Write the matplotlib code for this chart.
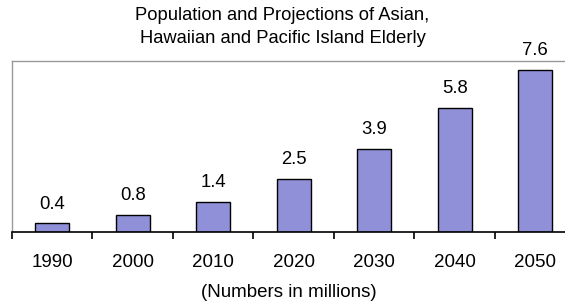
import matplotlib
matplotlib.use("Agg")
import matplotlib.pyplot as plt
import numpy as np

years = ["1990", "2000", "2010", "2020", "2030", "2040", "2050"]
values = [0.4, 0.8, 1.4, 2.5, 3.9, 5.8, 7.6]

plt.rcParams["font.family"] = ["Liberation Sans", "DejaVu Sans"]

W, H = 565, 302
fig = plt.figure(figsize=(W / 100, H / 100), dpi=100)
ax = fig.add_axes([12 / W, (H - 232) / H, 1 - 12 / W, 171 / H])

x = np.arange(len(years))
ax.bar(x, values, width=0.42, color="#9090d8", edgecolor="black", linewidth=1.0)
for xi, v in zip(x, values):
    ax.annotate(f"{v}", (xi, v), xytext=(0, 10.5), textcoords="offset points",
                ha="center", va="baseline", fontsize=13.3)

ax.set_xlim(-0.5, 6.37)
ax.set_ylim(0, 8)
ax.set_yticks([])
ax.set_xticks(np.arange(-0.5, 6.5, 1.0))
ax.set_xticklabels([])
ax.set_xticks(x, minor=True)
ax.set_xticklabels(years, minor=True, fontsize=13.5)
ax.tick_params(axis="x", which="major", direction="out", length=5, width=1.2, color="black")
ax.tick_params(axis="x", which="minor", length=0, pad=16)
ax.spines["bottom"].set_color("black")
ax.spines["bottom"].set_linewidth(1.2)
for s in ("left", "top"):
    ax.spines[s].set_color("#999999")
    ax.spines[s].set_linewidth(1.0)
ax.spines["right"].set_visible(False)

fig.text(0.5, 1 - 20 / H, "Population and Projections of Asian,", ha="center", va="baseline", fontsize=13.2)
fig.text(0.5, 1 - 43 / H, "Hawaiian and Pacific Island Elderly", ha="center", va="baseline", fontsize=13.2)
fig.text(289 / W, 1 - 297 / H, "(Numbers in millions)", ha="center", va="baseline", fontsize=13.5)

fig.savefig("out.png", dpi=100)
